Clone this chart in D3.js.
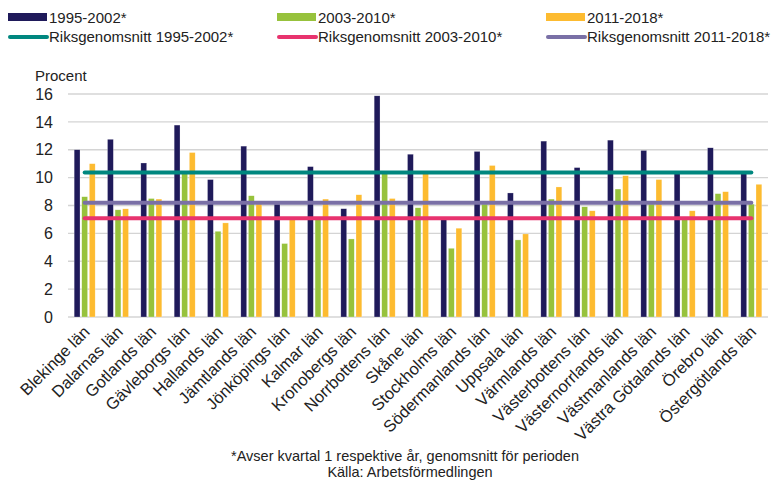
<!DOCTYPE html>
<html>
<head>
<meta charset="utf-8">
<script src="https://cdn.jsdelivr.net/npm/d3@7"></script>
<style>
  body { margin: 0; background: #fff; }
  svg { display: block; font-family: "Liberation Sans", Arial, sans-serif; }
</style>
</head>
<body>
<svg id="chart" width="771" height="481"></svg>
<script>
// Categories (län) and values
const categories = [
  'Blekinge län', 'Dalarnas län', 'Gotlands län', 'Gävleborgs län', 'Hallands län',
  'Jämtlands län', 'Jönköpings län', 'Kalmar län', 'Kronobergs län', 'Norrbottens län',
  'Skåne län', 'Stockholms län', 'Södermanlands län', 'Uppsala län', 'Värmlands län',
  'Västerbottens län', 'Västernorrlands län', 'Västmanlands län', 'Västra Götalands län',
  'Örebro län', 'Östergötlands län'
];
const series = ['1995-2002*', '2003-2010*', '2011-2018*'];
const values1995 = [12.0, 12.75, 11.05, 13.77, 9.86, 12.26, 8.1, 10.79, 7.77, 15.87, 11.68, 7.05, 11.88, 8.9, 12.62, 10.72, 12.69, 11.95, 10.35, 12.14, 10.35];
const values2003 = [8.63, 7.69, 8.5, 10.3, 6.15, 8.7, 5.27, 7.1, 5.6, 10.35, 7.84, 4.93, 8.1, 5.53, 8.46, 7.91, 9.18, 8.1, 7.05, 8.85, 8.1];
const values2011 = [11.0, 7.76, 8.46, 11.8, 6.75, 8.1, 7.0, 8.46, 8.77, 8.5, 10.3, 6.37, 10.87, 5.96, 9.33, 7.62, 10.14, 9.86, 7.62, 8.99, 9.52];
const averageLabels = ['Riksgenomsnitt 1995-2002*', 'Riksgenomsnitt 2003-2010*', 'Riksgenomsnitt 2011-2018*'];
const averageValues = [10.37, 7.09, 8.19];
const yTicks = [0, 2, 4, 6, 8, 10, 12, 14, 16];

const barColors = ['#1f1a5a', '#97c23c', '#fdbb30'];
const lineColors = ['#00877f', '#e8336e', '#7a70a6'];
const font = '"Liberation Sans", Arial, sans-serif';

const svg = d3.select('#chart');
const margin = { left: 68, right: 3, top: 94, bottom: 164 };
const width = 771, height = 481;

// Scales
const x0 = d3.scaleBand()
  .domain(categories)
  .range([margin.left, width - margin.right])
  .padding(0);
const groupW = 21;
const x1 = d3.scaleBand()
  .domain(series)
  .range([(x0.bandwidth() - groupW) / 2, (x0.bandwidth() + groupW) / 2])
  .paddingInner(0.23);
const y = d3.scaleLinear()
  .domain([0, 16])
  .range([height - margin.bottom, margin.top]);

// Gridlines
svg.append('g')
  .selectAll('line')
  .data(yTicks)
  .join('line')
  .attr('x1', margin.left)
  .attr('x2', width - margin.right)
  .attr('y1', d => y(d))
  .attr('y2', d => y(d))
  .attr('stroke', '#d4d4d4')
  .attr('stroke-width', 1.3);

// Y axis labels
const yAxis = d3.axisLeft(y).tickValues(yTicks).tickSize(0).tickPadding(0);
svg.append('g')
  .attr('transform', `translate(${margin.left - 15},0)`)
  .call(yAxis)
  .call(g => g.select('.domain').remove())
  .call(g => g.selectAll('text')
    .attr('font-family', font)
    .attr('font-size', 16)
    .attr('fill', '#222'));

svg.append('text')
  .attr('x', 35)
  .attr('y', 81)
  .attr('font-size', 15)
  .attr('fill', '#222')
  .text('Procent');

// Bars
const rows = categories.map((c, i) => ({
  category: c,
  values: [values1995[i], values2003[i], values2011[i]]
}));

const groups = svg.append('g')
  .selectAll('g')
  .data(rows)
  .join('g')
  .attr('transform', d => `translate(${x0(d.category)},0)`);

groups.selectAll('rect')
  .data(d => d.values.map((v, j) => ({ key: series[j], value: v, j })))
  .join('rect')
  .attr('x', d => x1(d.key))
  .attr('width', x1.bandwidth())
  .attr('y', d => y(d.value))
  .attr('height', d => y(0) - y(d.value))
  .attr('fill', d => barColors[d.j])
  .attr('stroke', '#ffffff')
  .attr('stroke-opacity', 0.5)
  .attr('stroke-width', 0.5);

// National average lines
const xStart = x0(categories[0]) + x0.bandwidth() / 2;
const xEnd = x0(categories[categories.length - 1]) + x0.bandwidth() / 2;
svg.append('g')
  .selectAll('line')
  .data(averageValues)
  .join('line')
  .attr('x1', xStart)
  .attr('x2', xEnd)
  .attr('y1', d => y(d))
  .attr('y2', d => y(d))
  .attr('stroke', (d, i) => lineColors[i])
  .attr('stroke-width', 4)
  .attr('stroke-linecap', 'round');

// X axis labels
svg.append('g')
  .selectAll('text')
  .data(categories)
  .join('text')
  .attr('transform', d => `translate(${x0(d) + x0.bandwidth() / 2 + 6},${y(0) + 16}) rotate(-45)`)
  .attr('text-anchor', 'end')
  .attr('font-size', 16.5)
  .attr('fill', '#222')
  .text(d => d);

// Legend
const legendCols = [8, 277, 546];
const legend = svg.append('g');
series.forEach((s, i) => {
  legend.append('rect')
    .attr('x', legendCols[i])
    .attr('y', 13)
    .attr('width', 39)
    .attr('height', 8)
    .attr('fill', barColors[i]);
  legend.append('text')
    .attr('x', legendCols[i] + 41)
    .attr('y', 23)
    .attr('font-size', 15)
    .attr('fill', '#222')
    .text(s);
});
averageLabels.forEach((s, i) => {
  legend.append('line')
    .attr('x1', legendCols[i] + 2)
    .attr('x2', legendCols[i] + 39)
    .attr('y1', 37)
    .attr('y2', 37)
    .attr('stroke', lineColors[i])
    .attr('stroke-width', 4)
    .attr('stroke-linecap', 'round');
  legend.append('text')
    .attr('x', legendCols[i] + 41)
    .attr('y', 42)
    .attr('font-size', 15)
    .attr('fill', '#222')
    .text(s);
});

// Footer
svg.append('text')
  .attr('x', 405)
  .attr('y', 461)
  .attr('text-anchor', 'middle')
  .attr('font-size', 14.5)
  .attr('fill', '#222')
  .text('*Avser kvartal 1 respektive år, genomsnitt för perioden');
svg.append('text')
  .attr('x', 410)
  .attr('y', 477)
  .attr('text-anchor', 'middle')
  .attr('font-size', 14.5)
  .attr('fill', '#222')
  .text('Källa: Arbetsförmedlingen');
</script>
</body>
</html>
